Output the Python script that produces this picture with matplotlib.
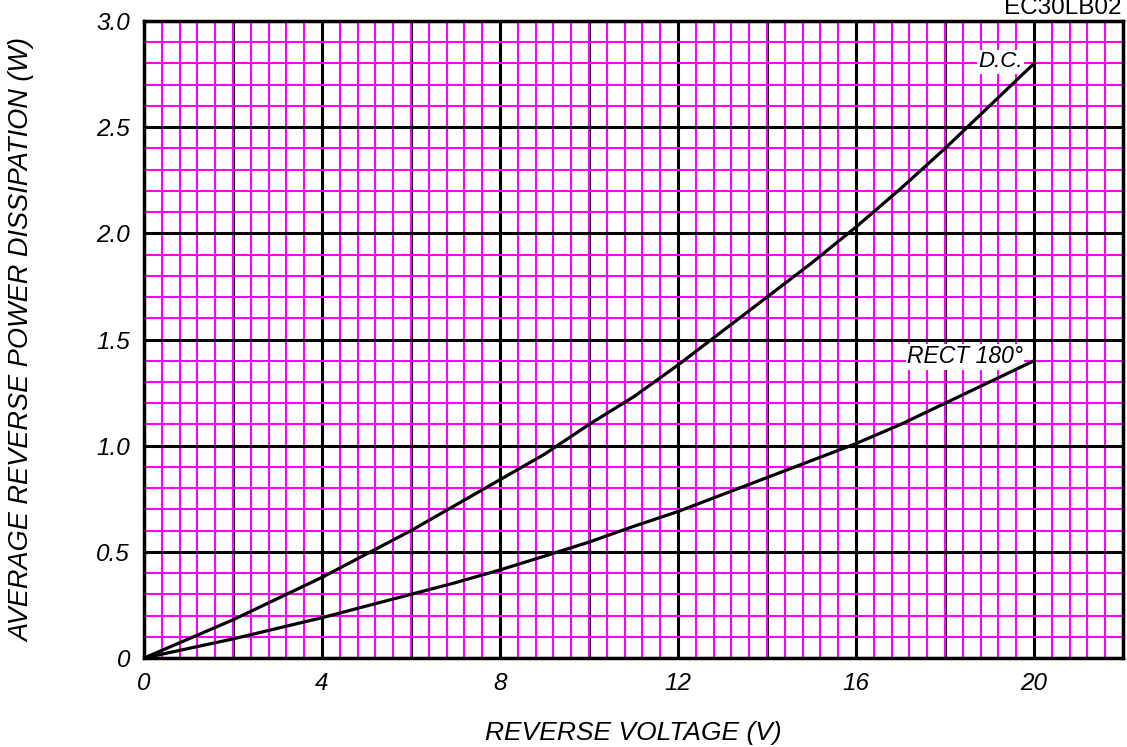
import numpy as np
import matplotlib
matplotlib.use('Agg')
import matplotlib.pyplot as plt
from matplotlib.ticker import MultipleLocator

plt.rcParams['font.family'] = ['Liberation Sans', 'DejaVu Sans']

# Curves
voltage = [0, 1, 2, 3, 4, 5, 6, 7, 8, 9, 10, 11, 12, 13, 14, 15, 16, 17, 18, 19, 20]
dc_power = [0, 0.09, 0.18, 0.28, 0.38, 0.49, 0.60, 0.72, 0.84, 0.96, 1.10, 1.23, 1.38, 1.54, 1.70, 1.86, 2.03, 2.21, 2.40, 2.60, 2.80]
rect_power = [0, 0.045, 0.09, 0.14, 0.19, 0.245, 0.30, 0.355, 0.415, 0.48, 0.546, 0.62, 0.69, 0.77, 0.85, 0.93, 1.01, 1.10, 1.20, 1.30, 1.40]

x_ticks = [0, 4, 8, 12, 16, 20]
x_tick_labels = ['0', '4', '8', '12', '16', '20']
y_ticks = [0, 0.5, 1.0, 1.5, 2.0, 2.5, 3.0]
y_tick_labels = ['0', '0.5', '1.0', '1.5', '2.0', '2.5', '3.0']

fig = plt.figure(figsize=(11.27, 7.47), dpi=100)
ax = fig.add_axes([0.1278, 0.1191, 0.8687, 0.8528])

ax.set_xlim(0, 22)
ax.set_ylim(0, 3.0)

# graph paper grid
ax.xaxis.set_minor_locator(MultipleLocator(0.4))
ax.yaxis.set_minor_locator(MultipleLocator(0.1))
ax.grid(which='minor', color='#ff00ff', linewidth=1.5)
ax.grid(which='major', color='black', linewidth=2.2)
ax.set_axisbelow(True)

ax.set_xticks(x_ticks)
ax.set_xticklabels(x_tick_labels, fontstyle='italic', fontsize=17.5)
ax.set_yticks(y_ticks)
ax.set_yticklabels(y_tick_labels, fontstyle='italic', fontsize=17.5)
# major gridlines every 2 V even though labels are every 4
for xv in range(2, 22, 4):
    ax.axvline(xv, color='black', linewidth=2.2, zorder=0.5)
ax.tick_params(which='both', length=0, pad=10)

for s in ax.spines.values():
    s.set_linewidth(2.5)
    s.set_color('black')

ax.plot(voltage, dc_power, color='black', linewidth=2.3, zorder=3)
ax.plot(voltage, rect_power, color='black', linewidth=2.3, zorder=3)

# labels sit under the curves so the line ends stay visible
ax.text(19.75, 2.807, 'D.C.', fontstyle='italic', fontsize=16, ha='right', va='center',
        bbox=dict(facecolor='white', edgecolor='none', pad=1), zorder=2.5)
ax.text(19.75, 1.418, 'RECT 180°', fontstyle='italic', fontsize=16.5, ha='right', va='center',
        bbox=dict(facecolor='white', edgecolor='none', pad=1), zorder=2.5)

ax.set_xlabel('REVERSE VOLTAGE (V)', fontstyle='italic', fontsize=19, labelpad=19)
ax.set_ylabel('AVERAGE REVERSE POWER DISSIPATION (W)', fontstyle='italic', fontsize=19.5, labelpad=44)

fig.text(0.995, 1 - 14 / 747, 'EC30LB02', fontsize=17.5, ha='right', va='baseline')

fig.savefig('out.png', dpi=100)
